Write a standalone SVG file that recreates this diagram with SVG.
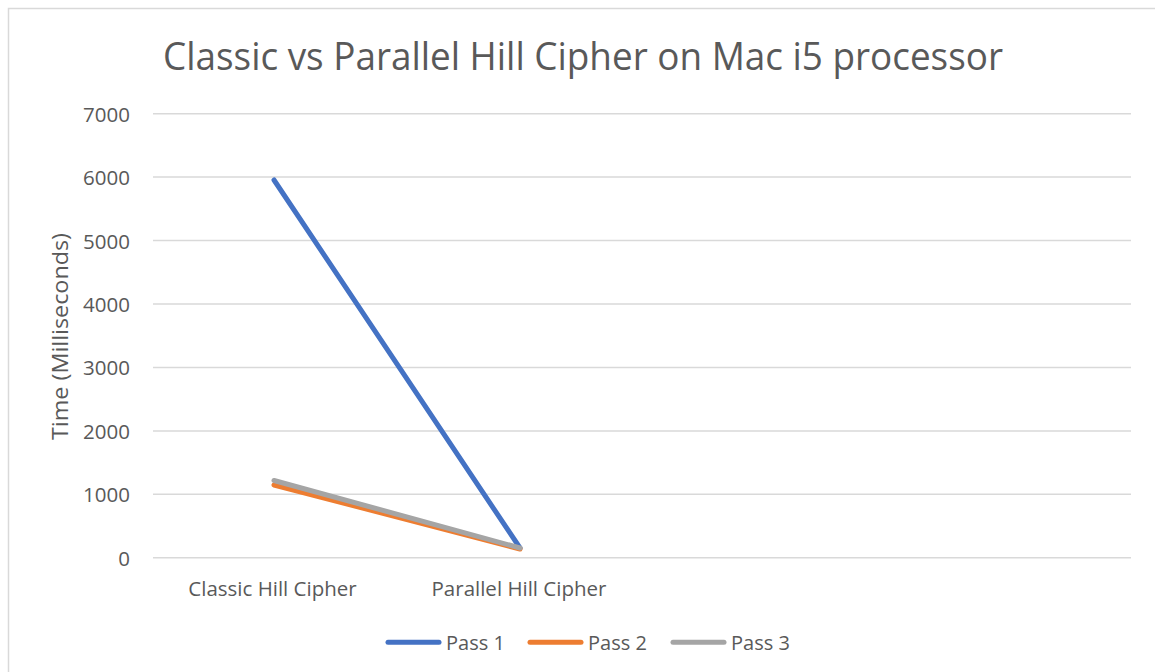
<svg xmlns="http://www.w3.org/2000/svg" width="1155" height="672" viewBox="0 0 1155 672">
  <style>
    text { font-family: "Open Sans", "Liberation Sans", sans-serif; fill: #595959; }
    .grid { stroke: #D9D9D9; stroke-width: 1.5; fill: none; }
    .tick { font-size: 20.5px; text-anchor: end; }
    .cat { font-size: 20.5px; text-anchor: middle; }
    .leg { font-size: 20px; }
    .series { fill: none; stroke-width: 5; stroke-linecap: round; stroke-linejoin: round; }
    .s1 { stroke: #4472C4; }
    .s2 { stroke: #ED7D31; }
    .s3 { stroke: #A5A5A5; }
  </style>

  <!-- chart area -->
  <rect x="0" y="0" width="1155" height="672" fill="#FFFFFF"/>
  <rect x="8.5" y="8.5" width="1160" height="680" fill="#FFFFFF" stroke="#D9D9D9" stroke-width="1.5"/>

  <!-- title -->
  <text id="title" x="163" y="70" font-size="39" textLength="840" lengthAdjust="spacingAndGlyphs">Classic vs Parallel Hill Cipher on Mac i5 processor</text>

  <!-- horizontal gridlines -->
  <g id="gridlines">
    <line class="grid" x1="153" y1="113.7" x2="1131" y2="113.7"/>
    <line class="grid" x1="153" y1="177.1" x2="1131" y2="177.1"/>
    <line class="grid" x1="153" y1="240.6" x2="1131" y2="240.6"/>
    <line class="grid" x1="153" y1="304.0" x2="1131" y2="304.0"/>
    <line class="grid" x1="153" y1="367.4" x2="1131" y2="367.4"/>
    <line class="grid" x1="153" y1="430.9" x2="1131" y2="430.9"/>
    <line class="grid" x1="153" y1="494.3" x2="1131" y2="494.3"/>
    <line class="grid" x1="153" y1="557.7" x2="1131" y2="557.7"/>
  </g>

  <!-- value axis labels -->
  <g id="y-axis">
    <text class="tick" x="130" y="121.7">7000</text>
    <text class="tick" x="130" y="185.1">6000</text>
    <text class="tick" x="130" y="248.6">5000</text>
    <text class="tick" x="130" y="312.0">4000</text>
    <text class="tick" x="130" y="375.4">3000</text>
    <text class="tick" x="130" y="438.9">2000</text>
    <text class="tick" x="130" y="502.3">1000</text>
    <text class="tick" x="130" y="565.7">0</text>
    <text id="y-title" transform="translate(68,336.5) rotate(-90)" font-size="21" text-anchor="middle" textLength="207" lengthAdjust="spacingAndGlyphs">Time (Milliseconds)</text>
  </g>

  <!-- category axis labels -->
  <g id="x-axis">
    <text class="cat" x="272.5" y="596">Classic Hill Cipher</text>
    <text class="cat" x="519" y="596">Parallel Hill Cipher</text>
  </g>

  <!-- data series -->
  <g id="connectors">
    <polyline id="pass1" class="series s1" points="274,180 520,548"/>
    <polyline id="pass2" class="series s2" points="274,485 520,549"/>
    <polyline id="pass3" class="series s3" points="274,480.5 520,548"/>
  </g>

  <!-- legend -->
  <g id="legend">
    <g id="legend-pass1">
      <line class="series s1" x1="388" y1="642.3" x2="439" y2="642.3"/>
      <text class="leg" x="446" y="649.5">Pass 1</text>
    </g>
    <g id="legend-pass2">
      <line class="series s2" x1="530" y1="642.3" x2="581" y2="642.3"/>
      <text class="leg" x="588" y="649.5">Pass 2</text>
    </g>
    <g id="legend-pass3">
      <line class="series s3" x1="673" y1="642.3" x2="724" y2="642.3"/>
      <text class="leg" x="731" y="649.5">Pass 3</text>
    </g>
  </g>
</svg>
